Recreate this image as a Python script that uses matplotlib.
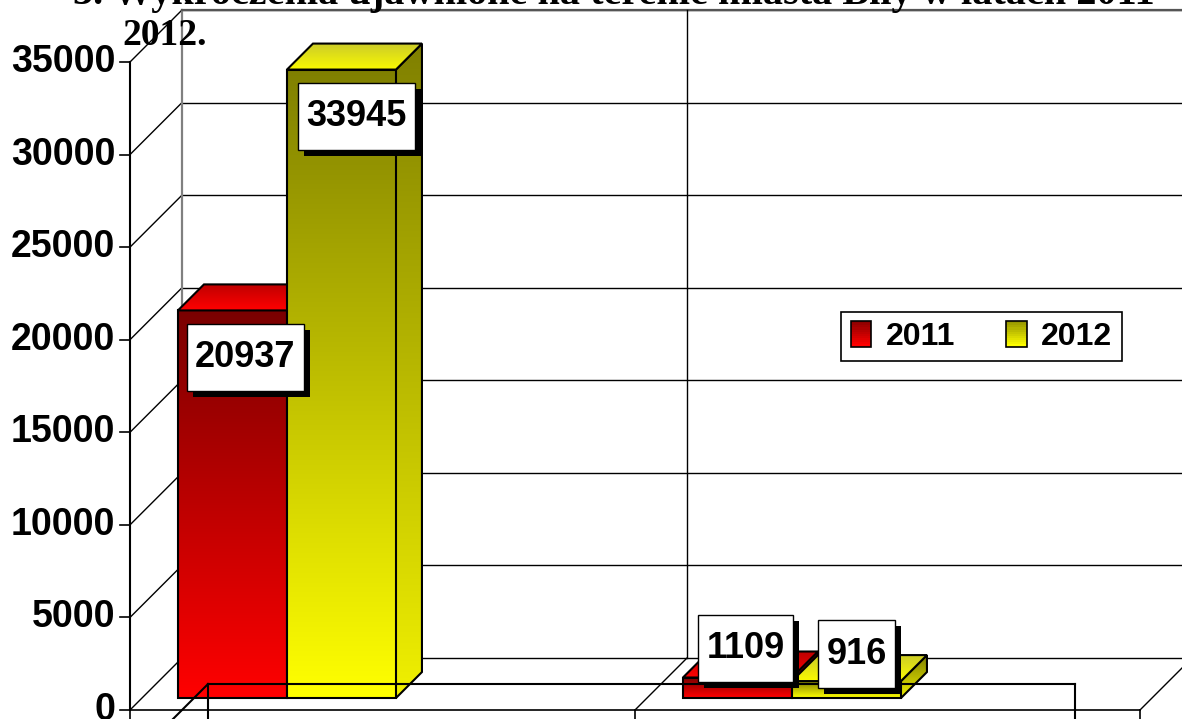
import numpy as np
import matplotlib
matplotlib.use("Agg")
import matplotlib.pyplot as plt
from matplotlib.patches import Polygon, Rectangle, Patch
from matplotlib.path import Path
from matplotlib.legend_handler import HandlerBase
import matplotlib.patheffects as pe

# ---------------- data ----------------
series_names = ["2011", "2012"]
values_2011 = [20937, 1109]
values_2012 = [33945, 916]
y_ticks = [0, 5000, 10000, 15000, 20000, 25000, 30000, 35000]
title_line1 = "3. Wykroczenia ujawnione na terenie miasta Biły w latach 2011 -"
title_line2 = "2012."

# ---------------- layout / style ----------------
W, H = 1182, 719
V2Y = 648 / 35000.0          # pixels per value unit
FLOOR_PX = 9                 # floor front edge above bottom (px)
DX = 52                      # depth offset in px
DY = DX / V2Y                # depth offset in value units
X0 = 130                     # front y-axis x position
CAT_W = 505
GAP = 36
BAR_W = 109
Z0, Z1 = 0.23, 0.73          # bar depth range (fraction)
label_dy_px = [[-60, 16], [-60, 14]]   # label offsets per series/category
label_dx_px = [[0, -5], [2, -3]]

fig = plt.figure(figsize=(W / 100, H / 100), dpi=100)
ax = fig.add_axes([0, 0, 1, 1])
ax.axis("off")
ylo = -FLOOR_PX / V2Y
yhi = (H - FLOOR_PX) / V2Y


def px(p):
    return p / V2Y


def P(x, v, z):
    return (x + z * DX, v + z * DY)


def grad_poly(verts, c_bot, c_top, z, lw=1.5):
    poly = Polygon(verts, closed=True, fc="none", ec="none", zorder=z)
    ax.add_patch(poly)
    xs, ys = zip(*verts)
    n = 128
    t = np.linspace(0, 1, n)[:, None, None]
    arr = np.array(c_bot)[None, None, :] * (1 - t) + np.array(c_top)[None, None, :] * t
    im = ax.imshow(arr / 255.0, extent=(min(xs), max(xs), min(ys), max(ys)), origin="lower",
                   aspect="auto", interpolation="bilinear", zorder=z)
    im.set_clip_path(poly)
    ax.add_patch(Polygon(verts, closed=True, fill=False, ec="black", lw=lw, zorder=z + 0.05,
                         joinstyle="miter"))


def label_box(x0, y0, width, height, mutation_size):
    padx = 0.24 * mutation_size
    pady = 0.45 * mutation_size
    x0, y0 = x0 - padx, y0 - pady
    w, h = width + 2 * padx, height + 2 * pady
    return Path([(x0, y0), (x0 + w, y0), (x0 + w, y0 + h), (x0, y0 + h), (x0, y0)],
                closed=True)


# ---------------- walls and floor ----------------
line_kw = dict(color="black", lw=1.0, zorder=1)
for v in y_ticks:
    ax.plot([X0 + DX, W + 20], [v + DY, v + DY], **line_kw)          # back wall grid
    ax.plot([X0, X0 + DX], [v, v + DY], **line_kw)                    # left wall diagonal
    ax.plot([X0 - 10, X0], [v, v], color="black", lw=1.2, zorder=1)   # tick
ax.plot([X0 + DX, X0 + DX], [DY, y_ticks[-1] + DY], color="#808080", lw=1.6, zorder=1)
ax.plot([X0 + DX, W + 20], [y_ticks[-1] + DY] * 2, color="#555555", lw=1.6, zorder=1)
ax.plot([X0, X0], [0, y_ticks[-1]], color="black", lw=1.5, zorder=1)
for i in range(1, 3):
    xb = X0 + i * CAT_W
    ax.plot([xb + DX, xb + DX], [DY, y_ticks[-1] + DY], **line_kw)
    ax.plot([xb, xb + DX], [0, DY], **line_kw)
ax.plot([X0, X0 + 2 * CAT_W], [0, 0], color="black", lw=1.2, zorder=1)
for i in range(3):
    xb = X0 + i * CAT_W
    ax.plot([xb, xb], [0, ylo - px(5)], color="black", lw=1.2, zorder=1)

# ---------------- bars ----------------
colors = {
    0: dict(front=((255, 0, 0), (122, 0, 0)), side=((235, 0, 0), (115, 0, 0)),
            top=((255, 0, 0), (190, 0, 0))),
    1: dict(front=((255, 255, 0), (128, 128, 0)), side=((240, 240, 0), (128, 128, 0)),
            top=((250, 250, 0), (205, 205, 40))),
}
series = [values_2011, values_2012]
zc = 3
for i in range(2):
    for j, vals in enumerate(series):
        v = vals[i]
        x = X0 + i * CAT_W + GAP + j * BAR_W
        c = colors[j]
        front = [P(x, 0, Z0), P(x + BAR_W, 0, Z0), P(x + BAR_W, v, Z0), P(x, v, Z0)]
        side = [P(x + BAR_W, 0, Z0), P(x + BAR_W, 0, Z1), P(x + BAR_W, v, Z1), P(x + BAR_W, v, Z0)]
        top = [P(x, v, Z0), P(x + BAR_W, v, Z0), P(x + BAR_W, v, Z1), P(x, v, Z1)]
        grad_poly(side, *c["side"], z=zc)
        grad_poly(front, *c["front"], z=zc + 0.2)
        grad_poly(top, *c["top"], z=zc + 0.4)
        zc += 1

# ---------------- overlay frame lines ----------------
FL, FR = X0 + DX + DX / 2, 1075
ymid = 0.5 * DY
ax.plot([FL, FR], [ymid, ymid], color="black", lw=1.5, zorder=12)
ax.plot([FL, FL], [ymid, ylo - px(5)], color="black", lw=1.5, zorder=12)
ax.plot([FR, FR], [ymid, ylo - px(5)], color="black", lw=1.5, zorder=12)
ax.plot([FL, FL - 60], [ymid, ymid - px(60)], color="black", lw=1.5, zorder=12)

# ---------------- data labels ----------------
for i in range(2):
    for j, vals in enumerate(series):
        v = vals[i]
        x = X0 + i * CAT_W + GAP + j * BAR_W
        cx, cy = P(x + BAR_W / 2, v, 0.48)
        t = ax.text(cx + label_dx_px[j][i], cy + px(label_dy_px[j][i]), f"{v}", ha="center",
                    va="center", fontsize=26, fontweight="bold", family="Liberation Sans",
                    zorder=20, bbox=dict(boxstyle=label_box, fc="white", ec="black", lw=1))
        t.get_bbox_patch().set_path_effects([
            pe.SimplePatchShadow(offset=(4.3, -4.3), shadow_rgbFace="black", alpha=1.0),
            pe.Normal()])

# ---------------- y tick labels ----------------
for v in y_ticks:
    ax.text(X0 - 15, v, f"{v}", ha="right", va="center", fontsize=27, fontweight="bold",
            family="Liberation Sans", zorder=2)

# ---------------- title ----------------
ax.text(73, (H - FLOOR_PX - 4) / V2Y, title_line1, ha="left", va="baseline", fontsize=29,
        fontweight="bold", family="Liberation Serif", zorder=2)
ax.text(122, (H - FLOOR_PX - 45) / V2Y, title_line2, ha="left", va="baseline", fontsize=27,
        fontweight="bold", family="Liberation Serif", zorder=2)


# ---------------- legend ----------------
class GradHandler(HandlerBase):
    def __init__(self, c_bot, c_top):
        super().__init__()
        self.c_bot = np.array(c_bot) / 255.0
        self.c_top = np.array(c_top) / 255.0

    def create_artists(self, legend, orig_handle, xdescent, ydescent, width, height, fontsize, trans):
        arts = []
        n = 12
        for k in range(n):
            f = k / (n - 1)
            col = self.c_bot * (1 - f) + self.c_top * f
            arts.append(Rectangle((-xdescent, -ydescent + height * k / n), width, height / n + 0.3,
                                  fc=col, ec="none", transform=trans))
        arts.append(Rectangle((-xdescent, -ydescent), width, height, fill=False, ec="black",
                              lw=1.2, transform=trans))
        return arts


h1, h2 = Patch(), Patch()
leg = ax.legend([h1, h2], series_names, ncol=2, loc="center",
                bbox_to_anchor=(((838 + 1125) / 2) / W, 1 - 336.5 / H),
                handler_map={h1: GradHandler((255, 0, 0), (140, 0, 0)),
                             h2: GradHandler((255, 255, 0), (150, 150, 0))},
                prop=dict(family="Liberation Sans", weight="bold", size=23),
                frameon=True, fancybox=False, edgecolor="black", framealpha=1,
                handlelength=0.65, handleheight=0.85, handletextpad=0.45, columnspacing=1.6,
                borderpad=0.3)
leg.get_frame().set_linewidth(1.2)
leg.set_zorder(30)

ax.set_xlim(0, W)
ax.set_ylim(ylo, yhi)
fig.savefig("out.png", dpi=100)
